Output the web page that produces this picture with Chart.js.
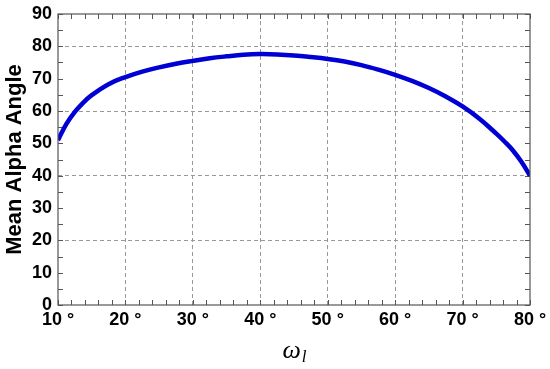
<!DOCTYPE html>
<html>
<head>
<meta charset="utf-8">
<script src="https://cdn.jsdelivr.net/npm/chart.js@4"></script>
<style>
  html, body { margin: 0; padding: 0; background: #fff; }
  #wrap { width: 550px; height: 369px; }
</style>
</head>
<body>
<div id="wrap"><canvas id="chart" width="550" height="369"></canvas></div>
<script>
// omega_l in degrees and the mean alpha angle
const angles = [10, 11.25, 12.5, 13.75, 15, 17.5, 20, 22.5, 25, 27.5, 30, 32.5, 35, 37.5, 40, 42.5, 45, 47.5, 50, 52.5, 55, 57.5, 60, 62.5, 65, 67.5, 70, 72.5, 75, 76.25, 77.5, 78.75, 80];
const meanAlpha = [51, 56, 59.7, 62.6, 64.9, 68.3, 70.5, 72.2, 73.5, 74.6, 75.5, 76.3, 76.9, 77.4, 77.6, 77.5, 77.2, 76.7, 76.1, 75.3, 74.2, 72.8, 71.2, 69.3, 67.1, 64.5, 61.4, 57.6, 53, 50.5, 47.7, 44.2, 40];
const xTicks = [10, 20, 30, 40, 50, 60, 70, 80];
const yTicks = [0, 10, 20, 30, 40, 50, 60, 70, 80, 90];

const frameColor = '#555';
const gridColor = '#999';

// small inward ticks on all four sides + the frame
const framePlugin = {
    id: 'frame',
    beforeDatasetsDraw(chart) {
        const ctx = chart.ctx;
        const a = chart.chartArea;
        const x = chart.scales.x, y = chart.scales.y;
        ctx.save();
        ctx.strokeStyle = frameColor;
        ctx.lineWidth = 1;
        ctx.beginPath();
        for (let v = 10; v <= 80; v += 2) {
            const px = Math.round(x.getPixelForValue(v)) + 0.5;
            ctx.moveTo(px, a.bottom); ctx.lineTo(px, a.bottom - 5);
            ctx.moveTo(px, a.top); ctx.lineTo(px, a.top + 5);
        }
        for (let v = 0; v <= 90; v += 5) {
            const py = Math.round(y.getPixelForValue(v)) + 0.5;
            ctx.moveTo(a.left, py); ctx.lineTo(a.left + 5, py);
            ctx.moveTo(a.right, py); ctx.lineTo(a.right - 5, py);
        }
        ctx.stroke();
        ctx.restore();
    },
    afterDraw(chart) {
        const ctx = chart.ctx;
        const a = chart.chartArea;
        ctx.save();
        ctx.strokeStyle = frameColor;
        ctx.lineWidth = 1.2;
        ctx.strokeRect(a.left, a.top, a.right - a.left, a.bottom - a.top);
        // x axis title: omega with subscript l
        ctx.fillStyle = '#000';
        ctx.textBaseline = 'alphabetic';
        ctx.font = 'italic 26px "Liberation Serif"';
        const cx = (a.left + a.right) / 2;
        const w1 = ctx.measureText('ω').width;
        ctx.font = 'italic 17px "Liberation Serif"';
        const w2 = ctx.measureText('l').width;
        const start = cx - (w1 + w2) / 2;
        ctx.font = 'italic 26px "Liberation Serif"';
        ctx.fillText('ω', start, 358);
        ctx.font = 'italic 17px "Liberation Serif"';
        ctx.fillText('l', start + w1 + 1, 362);
        ctx.restore();
    }
};

const tickFont = { family: '"Liberation Sans", Arial, sans-serif', size: 18, weight: 'bold' };

new Chart(document.getElementById('chart'), {
    type: 'line',
    data: {
        datasets: [{
            data: angles.map((a, i) => ({ x: a, y: meanAlpha[i] })),
            borderColor: 'rgb(0, 0, 212)',
            borderWidth: 4.5,
            pointRadius: 0,
            tension: 0.4,
            fill: false
        }]
    },
    options: {
        responsive: false,
        animation: false,
        layout: { padding: { top: 14, right: 20, left: 0, bottom: 0 } },
        plugins: { legend: { display: false }, tooltip: { enabled: false } },
        scales: {
            x: {
                type: 'linear',
                min: 10,
                max: 80,
                afterBuildTicks: s => { s.ticks = xTicks.map(v => ({ value: v })); },
                afterFit: s => { s.height = 64; s.paddingLeft = 0; s.paddingRight = 0; },
                grid: {
                    drawTicks: false,
                    color: c => (c.tick && (c.tick.value === 10 || c.tick.value === 80)) ? 'rgba(0,0,0,0)' : gridColor
                },
                border: { display: false, dash: [4, 3] },
                ticks: {
                    color: '#000',
                    font: tickFont,
                    padding: 4,
                    maxRotation: 0,
                    callback: v => v + ' °'
                }
            },
            y: {
                min: 0,
                max: 90,
                afterBuildTicks: s => { s.ticks = yTicks.map(v => ({ value: v })); },
                afterFit: s => { s.width = 58; s.paddingTop = 0; s.paddingBottom = 0; },
                grid: {
                    drawTicks: false,
                    color: c => (c.tick && c.tick.value % 20 === 0 && c.tick.value !== 0) ? gridColor : 'rgba(0,0,0,0)'
                },
                border: { display: false, dash: [4, 3] },
                ticks: {
                    color: '#000',
                    font: tickFont,
                    padding: 6
                },
                title: {
                    display: true,
                    text: 'Mean Alpha Angle',
                    color: '#000',
                    font: { family: '"Liberation Sans", Arial, sans-serif', size: 22, weight: 'bold' },
                    padding: { top: 2, bottom: 0 }
                }
            }
        }
    },
    plugins: [framePlugin]
});
</script>
</body>
</html>
